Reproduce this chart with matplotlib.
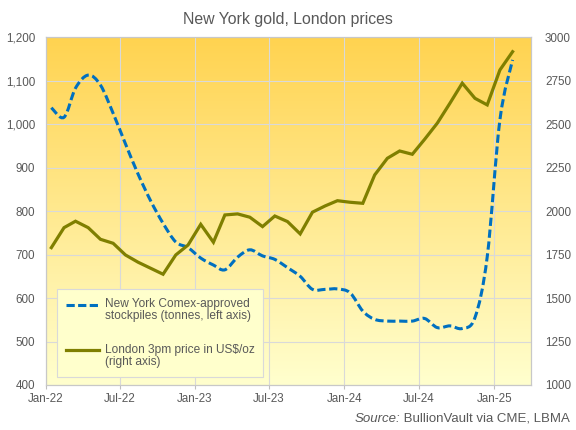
import numpy as np
import pandas as pd
import matplotlib
matplotlib.use("Agg")
import matplotlib.pyplot as plt
import matplotlib.dates as mdates
from matplotlib.path import Path
from matplotlib.patches import PathPatch
from matplotlib.lines import Line2D
from matplotlib.legend_handler import HandlerLine2D
from matplotlib.ticker import FuncFormatter, MultipleLocator
from datetime import datetime

plt.rcParams['font.family'] = ['Liberation Sans', 'DejaVu Sans']

# ---------------- data ----------------
months = pd.date_range('2022-01-01', periods=38, freq='MS') + pd.Timedelta(days=14)

comex_tonnes = [1038, 1016, 1083, 1113, 1090, 1025, 955, 885, 823, 772,
                729, 716, 692, 676, 665, 694, 711, 697, 689, 670,
                650, 620, 620, 621, 612, 570, 551, 547, 547, 547,
                553, 532, 536, 530, 555, 695, 1010, 1148]

london_price = [1790, 1905, 1942, 1905, 1838, 1815, 1748, 1706, 1671, 1637,
                1748, 1805, 1924, 1821, 1978, 1984, 1965, 1911, 1972, 1940,
                1869, 1994, 2030, 2060, 2051, 2045, 2208, 2304, 2346, 2327,
                2413, 2506, 2621, 2736, 2649, 2611, 2812, 2917]

title = 'New York gold, London prices'
label_comex = 'New York Comex-approved\nstockpiles (tonnes, left axis)'
label_price = 'London 3pm price in US$/oz\n(right axis)'
source_rest = ' BullionVault via CME, LBMA'

BLUE = '#0070C0'
OLIVE = '#7F7F00'
GREY = '#595959'
GRID = '#D9D9D9'

# ---------------- figure ----------------
fig = plt.figure(figsize=(5.76, 4.30), dpi=100)
ax = fig.add_axes([0.0792, 0.1047, 0.8427, 0.8086])
ax2 = ax.twinx()

# gradient background
g = np.linspace(0, 1, 256)[:, None, None]
top = np.array([255, 211, 80]) / 255.0
bot = np.array([255, 255, 206]) / 255.0
img = top * (1 - g) + bot * g
ax.imshow(img, extent=[0, 1, 0, 1], transform=ax.transAxes, aspect='auto',
          zorder=0, interpolation='bilinear')

ax.xaxis_date()

# smoothed (Catmull-Rom style) blue dashed line
xs = mdates.date2num(months.to_pydatetime())
ys = np.asarray(comex_tonnes, dtype=float)
n = len(xs)
verts = [(xs[0], ys[0])]
codes = [Path.MOVETO]
for i in range(n - 1):
    i0 = max(i - 1, 0)
    i3 = min(i + 2, n - 1)
    c1 = (xs[i] + (xs[i + 1] - xs[i0]) / 6.0, ys[i] + (ys[i + 1] - ys[i0]) / 6.0)
    c2 = (xs[i + 1] - (xs[i3] - xs[i]) / 6.0, ys[i + 1] - (ys[i3] - ys[i]) / 6.0)
    verts += [c1, c2, (xs[i + 1], ys[i + 1])]
    codes += [Path.CURVE4] * 3
patch = PathPatch(Path(verts, codes), fill=False, edgecolor=BLUE, lw=2.2,
                  linestyle=(0, (2.7, 1.2)), capstyle='butt', zorder=3)
ax.add_patch(patch)

ax2.plot(months, london_price, color=OLIVE, lw=2.3, solid_joinstyle='miter', zorder=3)

ax.set_xlim(datetime(2022, 1, 1), datetime(2025, 4, 1))
ax.set_ylim(400, 1200)
ax2.set_ylim(1000, 3000)

ax.xaxis.set_major_locator(mdates.MonthLocator(bymonth=[1, 7]))
ax.xaxis.set_major_formatter(mdates.DateFormatter('%b-%y'))
ax.yaxis.set_major_locator(MultipleLocator(100))
ax.yaxis.set_major_formatter(FuncFormatter(lambda v, p: f'{v:,.0f}'))
ax2.yaxis.set_major_locator(MultipleLocator(250))
ax2.yaxis.set_major_formatter(FuncFormatter(lambda v, p: f'{v:.0f}'))

ax.grid(True, color=GRID, lw=0.8)
ax.tick_params(axis='y', length=0, pad=7.6, labelsize=8.4, labelcolor=GREY)
ax.tick_params(axis='x', length=3, width=0.8, color='#BFBFBF', pad=3,
               labelsize=8.4, labelcolor=GREY)
ax2.tick_params(axis='y', length=0, pad=10, labelsize=8.4, labelcolor=GREY)
for a in (ax, ax2):
    for s in a.spines.values():
        s.set_color('#C8C8C8')
        s.set_linewidth(0.8)


class UpHandler(HandlerLine2D):
    def create_artists(self, legend, orig_handle, xdescent, ydescent, width,
                       height, fontsize, trans):
        arts = super().create_artists(legend, orig_handle, xdescent, ydescent,
                                      width, height, fontsize, trans)
        for a in arts:
            if isinstance(a, Line2D):
                a.set_ydata(np.asarray(a.get_ydata(), dtype=float) + 0.5 * fontsize)
        return arts


handles = [Line2D([], [], color=BLUE, lw=2.2, ls=(0, (2.7, 1.1))),
           Line2D([], [], color=OLIVE, lw=2.3)]
leg = ax2.legend(handles, [label_comex, label_price], loc='lower left',
                 bbox_to_anchor=(0.0229, 0.0221), borderaxespad=0,
                 fontsize=8.6, frameon=True, fancybox=False,
                 facecolor='#FFFFCC', edgecolor=GRID, framealpha=1,
                 borderpad=0.75, labelspacing=1.8, handlelength=2.75,
                 handletextpad=0.5, handler_map={Line2D: UpHandler()})
leg.get_frame().set_linewidth(0.8)
for t in leg.get_texts():
    t.set_color(GREY)
    t.set_linespacing(1.05)

fig.text(0.5, 0.9535, title, ha='center', va='center', fontsize=11.4, color=GREY)

renderer = fig.canvas.get_renderer()
t_src = fig.text(0.9896, 0.0256, source_rest, ha='right', va='center',
                 fontsize=9.5, color=GREY)
bb = t_src.get_window_extent(renderer=renderer)
fig.text(bb.x0 / fig.bbox.width, 0.0256, 'Source:', ha='right', va='center',
         fontsize=9.5, color=GREY, style='italic')

fig.savefig('out.png', dpi=100)
